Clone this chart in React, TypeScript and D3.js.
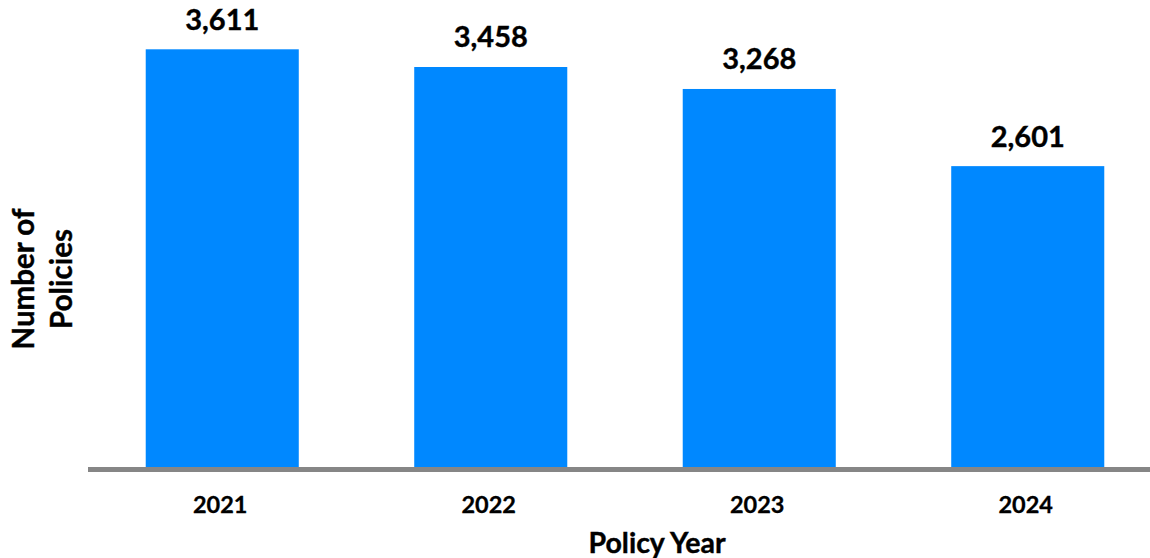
import React from "react";
import * as d3 from "d3";

const categories = ["2021", "2022", "2023", "2024"];
const values = [3611, 3458, 3268, 2601];
const xTitle = "Policy Year";
const yTitleLines = ["Number of", "Policies"];

const W = 1150;
const H = 558;
const FONT = "Lato, 'Open Sans', sans-serif";

export default function App() {
  const x = d3.scaleBand<string>().domain(categories).range([88, 1162]).paddingInner(0.43).paddingOuter(0.215);
  const y = d3.scaleLinear().domain([0, 3611]).range([467, 49.3]);
  const fmt = d3.format(",");
  return (
    <svg width={W} height={H} style={{ position: "absolute", left: 0, top: 0, background: "#fff" }}>
      {categories.map((c, i) => (
        <g key={c}>
          <rect x={x(c)} y={y(values[i])} width={x.bandwidth()} height={y(0) - y(values[i])} fill="#0088FF" />
          <text x={x(c)! + x.bandwidth() / 2} y={y(values[i]) - 19.5} textAnchor="middle" fontFamily={FONT} fontWeight={700} fontSize={29} fill="#000" stroke="#000" strokeWidth={0.4}>
            {fmt(values[i])}
          </text>
          <text x={x(c)! + x.bandwidth() / 2 - 2} y={512.5} textAnchor="middle" fontFamily={FONT} fontWeight={700} fontSize={23.5} fill="#000" stroke="#000" strokeWidth={0.3}>
            {c}
          </text>
        </g>
      ))}
      <line x1={88} x2={1162} y1={469.5} y2={469.5} stroke="#868686" strokeWidth={5} />
      <text x={657} y={552.5} textAnchor="middle" fontFamily={FONT} fontWeight={700} fontSize={28.5} fill="#000" stroke="#000" strokeWidth={0.4}>
        {xTitle}
      </text>
      <g transform="translate(34,279) rotate(-90)">
        <text x={0} y={0} textAnchor="middle" fontFamily={FONT} fontWeight={700} fontSize={29.5} fill="#000" stroke="#000" strokeWidth={0.4}>
          {yTitleLines[0]}
        </text>
        <text x={0} y={38} textAnchor="middle" fontFamily={FONT} fontWeight={700} fontSize={29.5} fill="#000" stroke="#000" strokeWidth={0.4}>
          {yTitleLines[1]}
        </text>
      </g>
    </svg>
  );
}
